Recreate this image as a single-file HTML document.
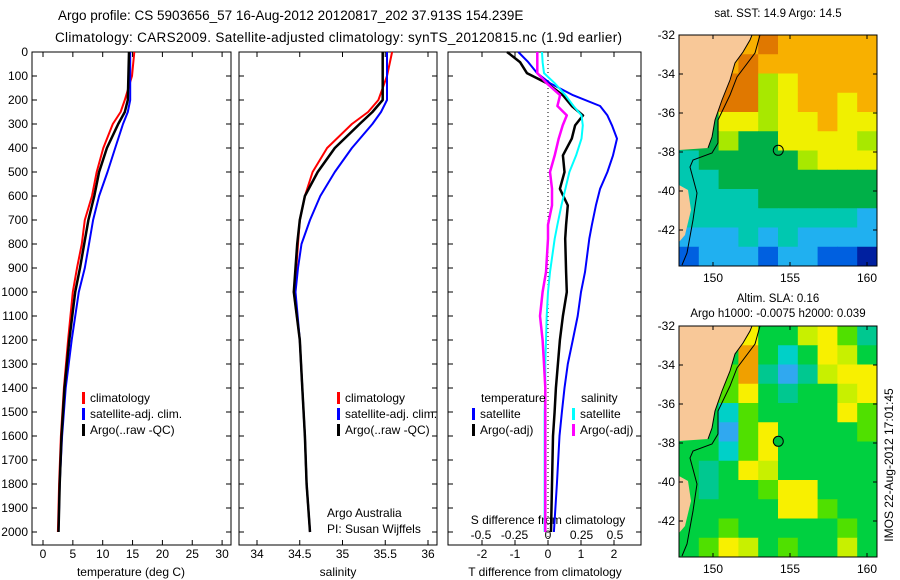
<!DOCTYPE html>
<html><head><meta charset="utf-8"><style>
body{margin:0;background:#fff;}
svg{display:block;font-family:"Liberation Sans",sans-serif;}
text{fill:#000;}
</style></head><body>
<svg id="c" width="900" height="580" viewBox="0 0 900 580">
<text x="58" y="20" font-size="13.5">Argo profile: CS 5903656_57 16-Aug-2012 20120817_202 37.913S 154.239E</text>
<text x="55" y="42" font-size="13.5" textLength="567">Climatology: CARS2009. Satellite-adjusted climatology: synTS_20120815.nc (1.9d earlier)</text>
<text x="778" y="17" font-size="11.5" text-anchor="middle">sat. SST: 14.9 Argo: 14.5</text>
<text x="778" y="302" font-size="11.5" text-anchor="middle">Altim. SLA: 0.16</text>
<text x="778" y="317" font-size="11.5" text-anchor="middle">Argo h1000: -0.0075 h2000: 0.039</text>
<text transform="translate(893,465) rotate(-90)" font-size="12" text-anchor="middle">IMOS 22-Aug-2012 17:01:45</text>
</svg>
<script>
// ---- data ----
const depths=[0,100,200,250,300,400,500,600,700,800,900,1000,1200,1400,1600,1800,2000];
const tempClim=[15.3,14.9,13.7,13.0,11.7,10.1,9.0,8.2,7.0,6.5,5.7,5.0,4.2,3.5,3.0,2.7,2.5];
const tempSat=[14.6,14.6,14.6,14.2,13.4,12.1,10.8,9.4,8.4,7.7,7.0,6.0,4.8,3.8,3.2,2.8,2.6];
const tempArgo=[14.4,14.3,14.2,13.7,12.6,10.7,9.4,8.6,7.6,6.9,6.2,5.4,4.4,3.6,3.1,2.8,2.6];
const salClim=[35.58,35.52,35.42,35.3,35.11,34.82,34.65,34.56,34.5,34.48,34.46,34.43,34.5,34.53,34.56,34.58,34.62];
const salSat=[35.52,35.52,35.52,35.45,35.35,35.11,34.91,34.74,34.62,34.52,34.48,34.45,34.5,34.53,34.56,34.58,34.62];
const salArgo=[35.47,35.47,35.47,35.35,35.2,34.91,34.71,34.56,34.5,34.47,34.45,34.43,34.5,34.53,34.56,34.58,34.62];
const dDepths=[0,42,88,130,180,225,264,306,361,431,500,570,639,720,778,917,1000,1100,1200,1300,1400,1500,1600,1800,2000];
const dTsat=[-0.9,-0.6,-0.33,0.06,0.76,1.58,1.8,1.94,2.09,1.97,1.8,1.58,1.45,1.33,1.25,1.12,1.0,0.9,0.75,0.6,0.5,0.42,0.35,0.27,0.18];
const dTargo=[-1.24,-0.85,-0.64,-0.03,0.45,0.72,1.06,0.82,0.72,0.45,0.5,0.36,0.6,0.55,0.52,0.55,0.57,0.45,0.36,0.3,0.24,0.2,0.15,0.12,0.09];
const dSargo=[-0.08,-0.08,-0.08,-0.01,0.09,0.07,0.14,0.11,0.08,0.05,0.015,0.03,0.03,0,0,-0.015,-0.04,-0.06,-0.04,-0.03,-0.02,-0.02,-0.02,-0.02,-0.02];
const dSsat=[-0.045,-0.04,-0.03,0.05,0.13,0.19,0.25,0.26,0.25,0.21,0.16,0.13,0.1,0.07,0.05,0.015,0.0,-0.01,-0.015,-0.02,-0.02,-0.025,-0.025,-0.025,-0.025];
const depthTicks=[0,100,200,300,400,500,600,700,800,900,1000,1100,1200,1300,1400,1500,1600,1700,1800,1900,2000];
const tTicks=[0,5,10,15,20,25,30];
const sTicks=[34,34.5,35,35.5,36];
const dTTicks=[-2,-1,0,1,2];
const dSTicks=[-0.5,-0.25,0,0.25,0.5];
const lonTicks=[150,155,160];
const latTicks=[-32,-34,-36,-38,-40,-42];
const sstGrid=[
[7,7,7,7,8,7,7,7,7,7],[7,7,7,8,7,7,7,7,7,7],[7,7,8,8,5,6,7,7,7,7],[6,6,8,8,5,6,7,7,6,7],
[4,4,6,6,5,6,6,7,6,6],[4,4,5,4,4,6,6,6,6,5],[3,4,4,4,4,4,5,6,6,6],[3,3,4,4,4,4,4,4,4,4],
[3,3,3,3,4,4,4,4,4,4],[3,3,3,3,3,3,3,3,3,2],[2,2,2,3,2,3,2,2,2,2],[1,2,2,2,1,2,2,1,1,0]];
const slaGrid=[
[3,3,4,6,3,3,5,6,4,2],[3,3,3,7,3,1,3,6,5,3],[3,3,4,7,2,0,2,5,6,6],[3,3,4,6,3,2,3,3,5,6],
[3,3,1,4,3,3,3,3,6,4],[3,3,0,4,6,3,3,3,3,4],[3,3,1,4,6,3,3,3,3,3],[3,2,3,6,5,3,3,3,3,3],
[3,2,3,3,4,6,6,3,3,3],[3,3,3,3,3,6,6,4,3,3],[3,3,4,3,3,3,3,3,4,3],[3,4,6,5,3,4,3,3,5,3]];
const argoLon=154.239, argoLat=-37.913;
// ---- drawing ----
const NS="http://www.w3.org/2000/svg", svg=document.getElementById('c');
function el(t,a,p){const e=document.createElementNS(NS,t);for(const k in a)e.setAttribute(k,a[k]);(p||svg).appendChild(e);return e;}
function txt(x,y,s,a,p){const e=el('text',Object.assign({x:x,y:y,'font-size':12},a||{}),p);e.textContent=s;return e;}
const Y0=52,YB=545,yD=d=>Y0+d*0.24;
function panel(name,x0,x1){
  const g=el('g',{});
  
  
  const r=el('rect',{x:x0,y:Y0,width:x1-x0,height:YB-Y0,fill:'none',stroke:'#000','stroke-width':1},g);
  
  
  return g;
}
function line(g,xs,ds,fx,color,w,name,dash){
  const pts=xs.map((v,i)=>fx(v).toFixed(1)+','+yD(ds[i]).toFixed(1)).join(' ');
  const p=el('polyline',{points:pts,fill:'none',stroke:color,'stroke-width':w,'stroke-linejoin':'round'},g);
  if(dash)p.setAttribute('stroke-dasharray',dash);
  
  
}
function depthAxis(g,x0,x1,labels){
  depthTicks.forEach(d=>{const y=yD(d);
    el('line',{x1:x0,y1:y,x2:x0+5,y2:y,stroke:'#000'},g);el('line',{x1:x1,y1:y,x2:x1-5,y2:y,stroke:'#000'},g);
    if(labels){const t=txt(x0-4,y+4,String(d),{'text-anchor':'end'},g);
      
      }
  });
}
function xAxis(g,ticks,fx,ly,fmt){
  ticks.forEach(v=>{const x=fx(v);el('line',{x1:x,y1:YB,x2:x,y2:YB-5,stroke:'#000'},g);el('line',{x1:x,y1:Y0,x2:x,y2:Y0+5,stroke:'#000'},g);
    const t=txt(x,ly,fmt?fmt(v):String(v),{'text-anchor':'middle'},g);
    
    });
}
function legend(g,x,y,items){
  items.forEach((it,i)=>{const yy=y+i*16;
    el('rect',{x:x,y:yy-10,width:3,height:12,fill:it[1]},g);
    const t=txt(x+8,yy,it[0],{},g);
    
    });
}
// panel 1 temperature
const fT=v=>43+v*5.97;
const g1=panel('temperature-panel',32,231);
depthAxis(g1,32,231,true);xAxis(g1,tTicks,fT,558);
line(g1,tempClim,depths,fT,'#f00',2,'temp-climatology-line');
line(g1,tempSat,depths,fT,'#00f',2,'temp-satellite-line');
line(g1,tempArgo,depths,fT,'#000',2.5,'temp-argo-line');
legend(g1,82,402,[['climatology','#f00'],['satellite-adj. clim.','#00f'],['Argo(..raw -QC)','#000']]);
txt(131,576,'temperature (deg C)',{'text-anchor':'middle'},g1);
// panel 2 salinity
const fS=v=>257+(v-34)*85.5;
const g2=panel('salinity-panel',239,437);
depthAxis(g2,239,437,false);xAxis(g2,sTicks,fS,558);
line(g2,salClim,depths,fS,'#f00',2,'sal-climatology-line');
line(g2,salSat,depths,fS,'#00f',2,'sal-satellite-line');
line(g2,salArgo,depths,fS,'#000',2.5,'sal-argo-line');
legend(g2,337,402,[['climatology','#f00'],['satellite-adj. clim.','#00f'],['Argo(..raw -QC)','#000']]);
txt(327,517,'Argo Australia',{},g2);txt(327,533,'PI: Susan Wijffels',{},g2);
txt(338,576,'salinity',{'text-anchor':'middle'},g2);
// panel 3 differences
const fdT=v=>548+v*33, fdS=v=>548+v*134;
const g3=panel('difference-panel',448,641);
depthAxis(g3,448,641,false);xAxis(g3,dTTicks,fdT,558);
el('line',{x1:548,y1:Y0,x2:548,y2:YB,stroke:'#000','stroke-dasharray':'1,3'},g3);
dSTicks.forEach(v=>{txt(fdS(v),539,String(v),{'text-anchor':'middle'},g3);});
txt(548,524,'S difference from climatology',{'text-anchor':'middle'},g3);
txt(545,576,'T difference from climatology',{'text-anchor':'middle'},g3);
line(g3,dTsat,dDepths,fdT,'#00f',2,'dT-satellite-line');
line(g3,dTargo,dDepths,fdT,'#000',2.5,'dT-argo-line');
line(g3,dSsat,dDepths,fdS,'#0ff',2,'dS-satellite-line');
line(g3,dSargo,dDepths,fdS,'#f0f',2.5,'dS-argo-line');
txt(481,402,'temperature',{},g3);txt(581,402,'salinity',{},g3);
legend(g3,472,418,[['satellite','#00f'],['Argo(-adj)','#000']]);
legend(g3,572,418,[['satellite','#0ff'],['Argo(-adj)','#f0f']]);
// maps
const sstCols=['#0020a0','#0060e0','#20b0f0','#00c8b0','#00b048','#a8e800','#f0f000','#f8b000','#e07800'];
const slaCols=['#30a8f0','#00d0c8','#00c890','#00d040','#50e000','#c8f000','#f8f000','#f0a000'];
const MX0=679,MX1=877,lonX=l=>713+(l-150)*15.4;
function map(name,top,grid,cols,filled){
  const g=el('g',{});
  
  
  const latY=l=>top+(-32-l)*19.5, H=231;
  const nr=grid.length,nc=grid[0].length,cw=(MX1-MX0)/nc,ch=H/nr;
  grid.forEach((row,r)=>row.forEach((v,c)=>{
    const q=el('rect',{x:MX0+c*cw,y:top+r*ch,width:cw+0.5,height:ch+0.5,fill:cols[v]},g);
    
    
  }));
  const o=top-35;
  const land=[[679,35],[752,35],[750,40],[743,52],[735,63],[730,80],[722,100],[715,120],[712,137],[708,148],[679,150]];
  el('polygon',{points:land.map(p=>p[0]+','+(p[1]+o)).join(' '),fill:'#f8c898'},g);
  el('polygon',{points:[[679,185],[688,190],[691,210],[685,235],[679,242]].map(p=>p[0]+','+(p[1]+o)).join(' '),fill:'#f8c898'},g);
  const ct=[[760,35],[755,53],[737,77],[730,95],[718,120],[718,143],[712,153],[693,160],[690,167],[697,193],[693,220],[687,253],[682,265]];
  el('polyline',{points:ct.map(p=>p[0]+','+(p[1]+o)).join(' '),fill:'none',stroke:'#000','stroke-width':1},g);
  el('polyline',{points:land.slice(1,10).map(p=>p[0]+','+(p[1]+o)).join(' '),fill:'none',stroke:'#000','stroke-width':1},g);
  el('rect',{x:MX0,y:top,width:MX1-MX0,height:H,fill:'none',stroke:'#000'},g);
  latTicks.forEach(l=>{const y=latY(l);el('line',{x1:MX0,y1:y,x2:MX0+4,y2:y,stroke:'#000'},g);el('line',{x1:MX1,y1:y,x2:MX1-4,y2:y,stroke:'#000'},g);
    txt(MX0-4,y+4,String(l),{'text-anchor':'end'},g);});
  lonTicks.forEach(l=>{const x=lonX(l);el('line',{x1:x,y1:top+H,x2:x,y2:top+H-4,stroke:'#000'},g);el('line',{x1:x,y1:top,x2:x,y2:top+4,stroke:'#000'},g);
    txt(x,top+H+16,String(l),{'text-anchor':'middle'},g);});
  const m=el('circle',{cx:lonX(argoLon),cy:latY(argoLat),r:5,fill:filled?'#00c040':'none',stroke:'#000','stroke-width':1},g);
  
  
}
map('sst-map',35,sstGrid,sstCols,false);
map('sla-map',326,slaGrid,slaCols,true);
</script>
</body></html>
